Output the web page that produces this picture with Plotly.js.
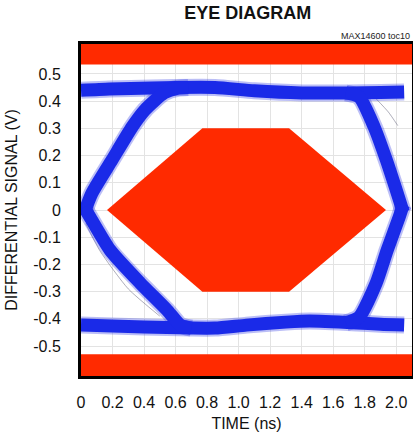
<!DOCTYPE html>
<html><head><meta charset="utf-8">
<script src="https://cdn.plot.ly/plotly-3.0.1.min.js"></script>
<style>html,body{margin:0;padding:0;background:#fff;}#chart{width:413px;height:438px;}</style>
</head><body><div id="chart"></div>
<script>
// ---- data ----
const xTickVals = [0, 0.2, 0.4, 0.6, 0.8, 1.0, 1.2, 1.4, 1.6, 1.8, 2.0];
const xTickText = ["0", "0.2", "0.4", "0.6", "0.8", "1.0", "1.2", "1.4", "1.6", "1.8", "2.0"];
const yTickVals = [0.5, 0.4, 0.3, 0.2, 0.1, 0, -0.1, -0.2, -0.3, -0.4, -0.5];
const yTickText = ["0.5", "0.4", "0.3", "0.2", "0.1", "0", "-0.1", "-0.2", "-0.3", "-0.4", "-0.5"];

// mask regions
const maskHexT = [0.165, 0.77, 1.32, 1.935, 1.32, 0.77, 0.165];
const maskHexV = [0, 0.3, 0.3, 0, -0.3, -0.3, 0];
const maskTopT = [0, 2.1, 2.1, 0, 0];
const maskTopV = [0.535, 0.535, 0.62, 0.62, 0.535];
const maskBotT = [0, 2.1, 2.1, 0, 0];
const maskBotV = [-0.53, -0.53, -0.62, -0.62, -0.53];

// eye traces (centre lines of the dense bundles)
const topBandT = [0.0, 0.18, 0.45, 0.6, 0.85, 1.1, 1.4, 1.7, 1.9, 2.05];
const topBandV = [0.44, 0.445, 0.448, 0.45, 0.45, 0.438, 0.43, 0.43, 0.432, 0.434];
const botBandT = [0.0, 0.4, 0.7, 0.85, 1.05, 1.3, 1.45, 1.75, 1.9, 2.05];
const botBandV = [-0.423, -0.43, -0.434, -0.434, -0.423, -0.412, -0.408, -0.415, -0.42, -0.423];
const riseLT = [0.02, 0.07, 0.197, 0.324, 0.406, 0.527, 0.61, 0.68];
const riseLV = [-0.01, 0.0625, 0.184, 0.305, 0.368, 0.43, 0.447, 0.45];
const fallLT = [0.02, 0.057, 0.184, 0.375, 0.546, 0.63, 0.7];
const fallLV = [0.01, -0.026, -0.147, -0.268, -0.368, -0.423, -0.434];
const fallRT = [1.68, 1.765, 1.86, 1.937, 2.006, 2.044];
const fallRV = [0.43, 0.415, 0.305, 0.184, 0.0625, -0.007];
const riseRT = [1.68, 1.765, 1.873, 1.943, 2.019, 2.044];
const riseRV = [-0.415, -0.393, -0.268, -0.147, -0.026, 0.018];

// faint outlier traces
const outA_T = [1.87, 1.95, 2.01];
const outA_V = [0.41, 0.36, 0.31];
const outB_T = [0.03, 0.12, 0.3, 0.5];
const outB_V = [-0.05, -0.15, -0.29, -0.39];

const RED = '#ff2a00';
const BLUE = '#1a2ae8';

function poly(t, v) {
  return {x: t, y: v, type: 'scatter', mode: 'lines', fill: 'toself',
          fillcolor: RED, line: {width: 0, color: RED}, hoverinfo: 'skip', showlegend: false};
}
function bundle(t, v, w, c) {
  return {x: t, y: v, type: 'scatter', mode: 'lines',
          line: {width: w, color: c, shape: 'spline', smoothing: 0.6}, hoverinfo: 'skip', showlegend: false};
}

const eye = [[topBandT, topBandV], [botBandT, botBandV], [riseLT, riseLV], [fallLT, fallLV], [fallRT, fallRV], [riseRT, riseRV]];
const traces = [poly(maskTopT, maskTopV), poly(maskBotT, maskBotV), poly(maskHexT, maskHexV)];
traces.push(bundle(outA_T, outA_V, 1, 'rgba(120,120,140,0.6)'));
traces.push(bundle(outB_T, outB_V, 1, 'rgba(120,120,140,0.6)'));
eye.forEach(e => traces.push(bundle(e[0], e[1], 17, 'rgba(60,70,230,0.35)')));
eye.forEach(e => traces.push(bundle(e[0], e[1], 13, BLUE)));

const FONT = '"Liberation Sans Narrow", "Arial Narrow", "Liberation Sans", Arial, sans-serif';

const layout = {
  width: 413, height: 438,
  margin: {l: 81, r: 1, t: 44, b: 62},
  paper_bgcolor: '#fff', plot_bgcolor: '#fff',
  font: {family: FONT, size: 16, color: '#111'},
  title: {text: '<b>EYE DIAGRAM</b>', x: 0.6, xanchor: 'center', y: 0.985, yanchor: 'top',
          font: {family: '"Liberation Sans Narrow", "Liberation Sans", Arial, sans-serif', size: 18, color: '#111'}},
  xaxis: {range: [0, 2.1], tickvals: xTickVals, ticktext: xTickText, showgrid: true, gridcolor: '#e3e3e3', gridwidth: 1,
          zeroline: false, showline: true, linecolor: '#000', linewidth: 3, mirror: true, ticks: '',
          ticklabelstandoff: 10, fixedrange: true,
          title: {text: 'TIME (ns)', standoff: 8, font: {size: 16}}},
  yaxis: {range: [-0.61, 0.61], tickvals: yTickVals, ticktext: yTickText, showgrid: true, gridcolor: '#e3e3e3', gridwidth: 1,
          zeroline: false, showline: true, linecolor: '#000', linewidth: 3, mirror: true, ticks: '',
          ticklabelstandoff: 14, fixedrange: true,
          title: {text: 'DIFFERENTIAL SIGNAL (V)', standoff: 12, font: {size: 16}}},
  annotations: [{text: 'MAX14600 toc10', xref: 'paper', yref: 'paper', x: 1, y: 1, xanchor: 'right', yanchor: 'bottom',
                 yshift: 1, showarrow: false, font: {family: '"Liberation Sans", Arial, sans-serif', size: 9, color: '#222'}}],
  showlegend: false
};

Plotly.newPlot('chart', traces, layout, {staticPlot: true, displayModeBar: false});
</script>
</body></html>
